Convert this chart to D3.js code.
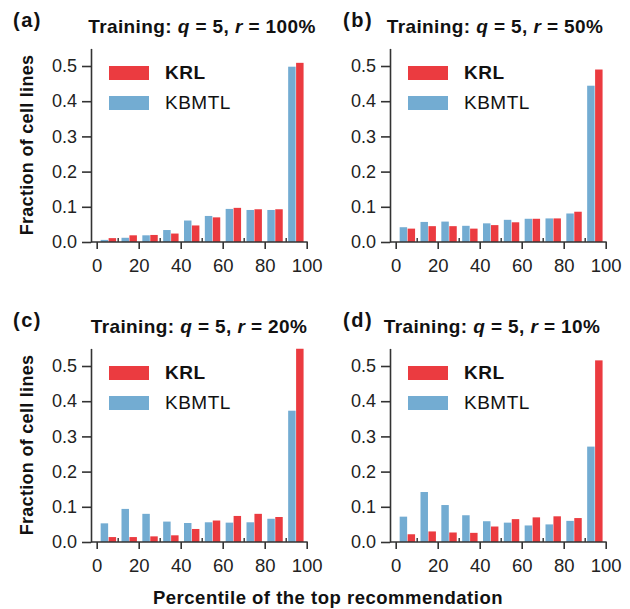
<!DOCTYPE html>
<html>
<head>
<meta charset="utf-8">
<script src="https://cdn.jsdelivr.net/npm/d3@7"></script>
<style>
  html, body { margin: 0; padding: 0; background: #fff; }
  svg { display: block; font-family: "Liberation Sans", Arial, Helvetica, sans-serif; }
</style>
</head>
<body>
<svg id="chart" width="630" height="609"></svg>
<script>
// ---- data ----
const bins = ["0-10","10-20","20-30","30-40","40-50","50-60","60-70","70-80","80-90","90-100"];
const series = ["KBMTL", "KRL"];
const xTickValues = [0, 20, 40, 60, 80, 100];
const xMinorTicks = [10, 30, 50, 70, 90];
const yTickValues = [0, 0.1, 0.2, 0.3, 0.4, 0.5];
const panelLabels = ["(a)", "(b)", "(c)", "(d)"];
const rValues = ["100%", "50%", "20%", "10%"];

const krlA   = [0.011, 0.019, 0.020, 0.024, 0.047, 0.070, 0.097, 0.093, 0.093, 0.509];
const kbmtlA = [0.006, 0.012, 0.019, 0.034, 0.061, 0.074, 0.094, 0.091, 0.091, 0.498];
const krlB   = [0.038, 0.045, 0.045, 0.038, 0.048, 0.056, 0.066, 0.067, 0.086, 0.490];
const kbmtlB = [0.042, 0.057, 0.058, 0.046, 0.053, 0.063, 0.066, 0.067, 0.081, 0.444];
const krlC   = [0.014, 0.014, 0.016, 0.019, 0.037, 0.061, 0.074, 0.080, 0.071, 0.549];
const kbmtlC = [0.053, 0.094, 0.080, 0.058, 0.054, 0.056, 0.055, 0.056, 0.066, 0.373];
const krlD   = [0.022, 0.030, 0.027, 0.026, 0.044, 0.065, 0.070, 0.073, 0.068, 0.516];
const kbmtlD = [0.072, 0.142, 0.105, 0.076, 0.059, 0.055, 0.047, 0.050, 0.060, 0.271];

const colors = { KRL: "#eb3b40", KBMTL: "#73acd2" };
const axisColor = "#333";

const panels = [
  { label: panelLabels[0], r: rValues[0], krl: krlA, kbmtl: kbmtlA, dx: 0,   dy: 0,   yLabel: true,  tc: 202, lx: 13 },
  { label: panelLabels[1], r: rValues[1], krl: krlB, kbmtl: kbmtlB, dx: 299, dy: 0,   yLabel: false, tc: 196, lx: 44 },
  { label: panelLabels[2], r: rValues[2], krl: krlC, kbmtl: kbmtlC, dx: 0,   dy: 300, yLabel: true,  tc: 199, lx: 13 },
  { label: panelLabels[3], r: rValues[3], krl: krlD, kbmtl: kbmtlD, dx: 299, dy: 300, yLabel: false, tc: 193, lx: 44 }
];

const svg = d3.select("#chart");
const spineX = 91;

panels.forEach(p => {
  const g = svg.append("g").attr("transform", `translate(${p.dx},${p.dy})`);
  const x = d3.scaleLinear().domain([0, 100]).range([96.7, 306.7]);
  const y = d3.scaleLinear().domain([0, 0.55]).range([242, 48.4]);
  const xb = d3.scaleBand().domain(bins).range([x(0.6), x(99.8)]).paddingInner(0.26).paddingOuter(0.13);
  const xs = d3.scaleBand().domain(series).range([0, xb.bandwidth()]).paddingInner(0.06);

  const rows = bins.map((b, i) => ({ bin: b, KBMTL: p.kbmtl[i], KRL: p.krl[i] }));

  // bars
  g.append("g").selectAll("g").data(rows).join("g")
    .attr("transform", d => `translate(${xb(d.bin)},0)`)
    .selectAll("rect")
    .data(d => series.map(s => ({ key: s, value: d[s] })))
    .join("rect")
    .attr("x", d => xs(d.key))
    .attr("width", xs.bandwidth())
    .attr("y", d => y(d.value))
    .attr("height", d => y(0) - y(d.value))
    .attr("fill", d => colors[d.key]);

  // y axis
  const yAxis = g.append("g").attr("transform", `translate(${spineX},0)`)
    .call(d3.axisLeft(y).tickValues(yTickValues).tickFormat(d3.format(".1f")).tickSize(9).tickSizeOuter(0).tickPadding(5));
  yAxis.select(".domain").attr("stroke", axisColor).attr("stroke-width", 1.6);
  yAxis.selectAll(".tick line").attr("stroke", axisColor).attr("stroke-width", 1.6);
  yAxis.selectAll(".tick text").attr("font-size", 18).attr("fill", "#222");

  // x axis
  const xAxis = g.append("g").attr("transform", `translate(0,${y(0)})`)
    .call(d3.axisBottom(x).tickValues(xTickValues).tickSize(7).tickSizeOuter(0).tickPadding(10));
  xAxis.select(".domain").remove();
  xAxis.selectAll(".tick line").attr("stroke", axisColor).attr("stroke-width", 1.6);
  xAxis.selectAll(".tick text").attr("font-size", 18.5).attr("fill", "#222");
  xAxis.append("line")
    .attr("x1", spineX).attr("x2", x(100) + 1)
    .attr("y1", 0).attr("y2", 0)
    .attr("stroke", axisColor).attr("stroke-width", 1.6);
  const minor = g.append("g").attr("transform", `translate(0,${y(0)})`)
    .call(d3.axisBottom(x).tickValues(xMinorTicks).tickSize(-4).tickFormat(""));
  minor.select(".domain").remove();
  minor.selectAll(".tick line").attr("stroke", axisColor).attr("stroke-width", 1.4);

  // legend
  const lg = g.append("g").attr("transform", `translate(${spineX + 18},66)`);
  [["KRL", 0, "bold"], ["KBMTL", 30, "normal"]].forEach(([name, oy, fw]) => {
    lg.append("rect").attr("x", 0).attr("y", oy).attr("width", 40).attr("height", 14).attr("fill", colors[name]);
    lg.append("text").attr("x", 56).attr("y", oy + 13).attr("font-size", 19)
      .attr("letter-spacing", 0.5)
      .attr("font-weight", fw).attr("fill", "#111").text(name);
  });

  // title
  const t = g.append("text").attr("x", p.tc).attr("y", 33).attr("text-anchor", "middle")
    .attr("font-size", 19).attr("font-weight", "bold").attr("letter-spacing", 0.4).attr("fill", "#111");
  t.append("tspan").text("Training: ");
  t.append("tspan").attr("font-style", "italic").text("q");
  t.append("tspan").text(" = 5, ");
  t.append("tspan").attr("font-style", "italic").text("r");
  t.append("tspan").text(" = " + p.r);

  // panel label
  g.append("text").attr("x", p.lx).attr("y", 27).attr("font-size", 20).attr("font-weight", "bold")
    .attr("letter-spacing", 1.5).attr("fill", "#111").text(p.label);

  if (p.yLabel) {
    g.append("text").attr("transform", "translate(33,145) rotate(-90)")
      .attr("text-anchor", "middle").attr("font-size", 18).attr("font-weight", "bold")
      .attr("letter-spacing", 0.3).attr("fill", "#111").text("Fraction of cell lines");
  }
});

svg.append("text").attr("x", 328).attr("y", 604).attr("text-anchor", "middle")
  .attr("font-size", 18.5).attr("font-weight", "bold").attr("letter-spacing", 0.5).attr("fill", "#111")
  .text("Percentile of the top recommendation");
</script>
</body>
</html>
